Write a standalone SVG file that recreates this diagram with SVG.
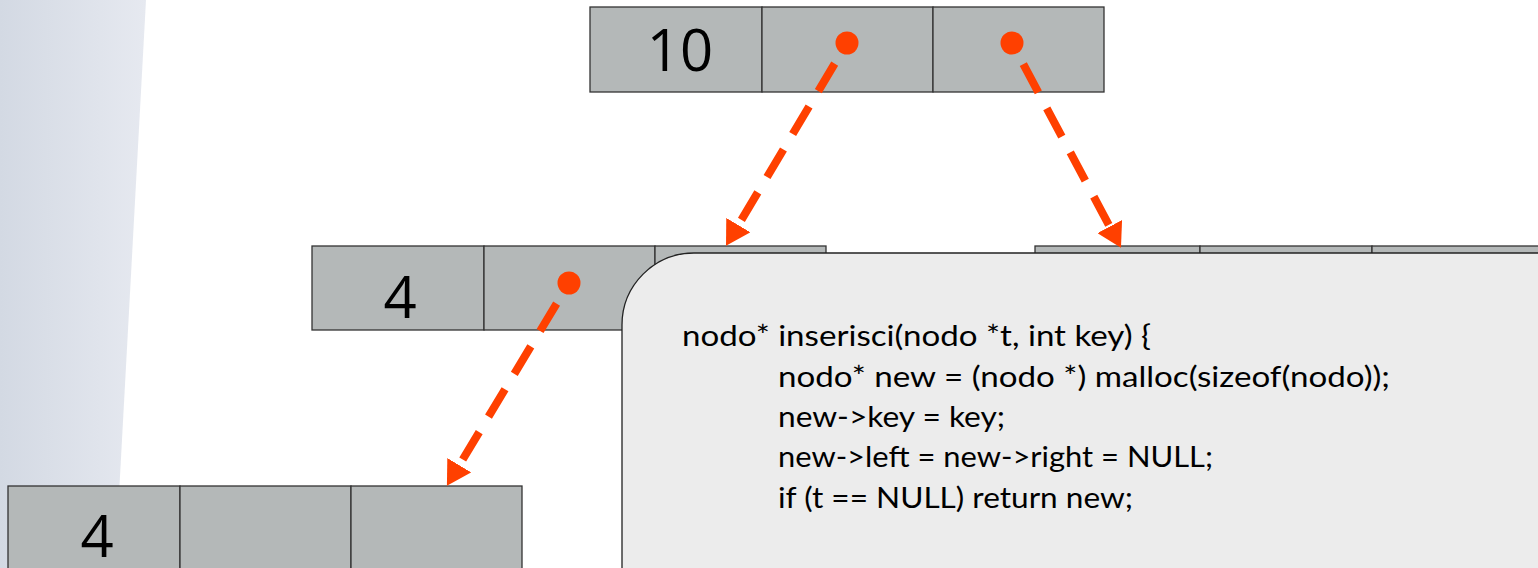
<svg xmlns="http://www.w3.org/2000/svg" width="1538" height="568" viewBox="0 0 1538 568">
<style>
.cell{fill:#b4b8b8;stroke:#333;stroke-width:1.3}
.num{font-family:"Open Sans","Liberation Sans",sans-serif;font-size:58px;fill:#000;text-anchor:middle}
.dot{fill:#ff4000}
.conn{stroke:#ff4000;stroke-width:8;fill:none;stroke-dasharray:32 18}
.code{font-family:Lato,"Liberation Sans",sans-serif;font-size:29px;fill:#000}
</style>
<defs>
<linearGradient id="bg" x1="0" y1="0" x2="1" y2="0">
<stop offset="0" stop-color="#d3d9e3"/>
<stop offset="1" stop-color="#e6e9f0"/>
</linearGradient>
<marker id="ah" markerUnits="userSpaceOnUse" markerWidth="24" markerHeight="28" viewBox="0 0 24 28" refX="0" refY="14" orient="auto">
<path d="M0,0 L24,14 L0,28 z" fill="#ff4000"/>
</marker>
</defs>
<rect width="1538" height="568" fill="#fff"/>
<polygon points="0,0 146,0 115,568 0,568" fill="url(#bg)"/>

<g id="node-root">
<rect class="cell" x="590" y="7" width="172" height="85"/>
<rect class="cell" x="762" y="7" width="171" height="85"/>
<rect class="cell" x="933" y="7" width="171" height="85"/>
<text class="num" x="680" y="71">10</text>
<circle class="dot" cx="847" cy="43" r="11.5"/>
<circle class="dot" cx="1012" cy="43" r="11.5"/>
</g>

<g id="node-right">
<rect class="cell" x="1035" y="246" width="165" height="40"/>
<rect class="cell" x="1200" y="246" width="172" height="40"/>
<rect class="cell" x="1372" y="246" width="172" height="40"/>
</g>

<g id="node-left">
<rect class="cell" x="312" y="246" width="172" height="84"/>
<rect class="cell" x="484" y="246" width="171" height="84"/>
<rect class="cell" x="655" y="246" width="171" height="84"/>
<text class="num" x="400" y="318">4</text>
<circle class="dot" cx="569" cy="283" r="11.5"/>
</g>

<g id="node-leaf">
<rect class="cell" x="8" y="486" width="172" height="90"/>
<rect class="cell" x="180" y="486" width="171" height="90"/>
<rect class="cell" x="351" y="486" width="171" height="90"/>
<text class="num" x="97" y="557">4</text>
</g>

<g id="connectors">
<line class="conn" x1="834.7" y1="63.6" x2="738.3" y2="225.1" marker-end="url(#ah)"/>
<line class="conn" x1="1023.3" y1="64.2" x2="1109.7" y2="226.6" marker-end="url(#ah)"/>
<line class="conn" x1="556.6" y1="303.6" x2="459.3" y2="465.2" marker-end="url(#ah)"/>
</g>

<g id="code-box">
<rect x="622" y="253" width="1000" height="400" rx="72" ry="72" fill="#ececec" stroke="#222" stroke-width="1.3"/>
<text class="code" x="682" y="346" textLength="469" lengthAdjust="spacingAndGlyphs">nodo* inserisci(nodo *t, int key) {</text>
<text class="code" x="778" y="387" textLength="612" lengthAdjust="spacingAndGlyphs">nodo* new = (nodo *) malloc(sizeof(nodo));</text>
<text class="code" x="778" y="427" textLength="227" lengthAdjust="spacingAndGlyphs">new-&gt;key = key;</text>
<text class="code" x="778" y="467" textLength="435" lengthAdjust="spacingAndGlyphs">new-&gt;left = new-&gt;right = NULL;</text>
<text class="code" x="778" y="508" textLength="355" lengthAdjust="spacingAndGlyphs">if (t == NULL) return new;</text>
</g>
</svg>
